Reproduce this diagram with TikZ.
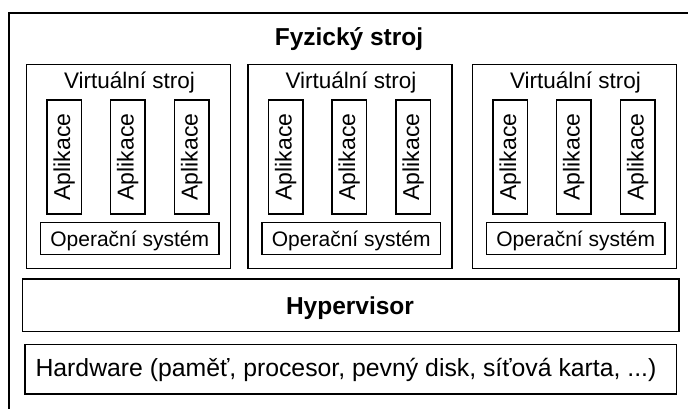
\documentclass[tikz,border=0pt]{standalone}
\usepackage{fontspec}
\setmainfont{Liberation Sans}

\begin{document}
\begin{tikzpicture}[x=1pt,y=-1pt,
    frame/.style={draw,line width=1.3pt},
    bigtext/.style={anchor=base,inner sep=0pt,font=\fontsize{24.5}{29}\selectfont\bfseries},
    vmtext/.style={anchor=base,inner sep=0pt,font=\fontsize{22.5}{27}\selectfont},
    apptext/.style={rotate=90,inner sep=0pt,font=\fontsize{23}{27}\selectfont},
    ostext/.style={anchor=base,inner sep=0pt,font=\fontsize{21}{25}\selectfont},
    hwtext/.style={anchor=base,inner sep=0pt,font=\fontsize{24.8}{29}\selectfont}]
    \useasboundingbox (0,0) rectangle (688,408);
    \clip (0,0) rectangle (688,408);

    % physical machine, runs off the page on the right and at the bottom
    \draw[frame] (9,13) rectangle (705,425);
    \node[bigtext] (host) at (349,45) {Fyzický stroj};

    % three virtual machines
    \foreach \vx/\i in {26.5/1, 248/2, 472.5/3} {
        \draw[frame] (\vx,64.5) rectangle ++(204,204);
        \node[vmtext] (vm\i) at (\vx+103,88) {Virtuální stroj};
        \foreach \ax/\j in {20.5/a, 84/b, 148/c} {
            \draw[frame] (\vx+\ax,100) rectangle ++(34.5,114);
            \node[apptext] (app\i\j) at (\vx+\ax+17.25,157) {Aplikace};
        }
        \draw[frame] (\vx+14,222.5) rectangle ++(178.5,32);
        \node[ostext] (os\i) at (\vx+103.25,246) {Operační systém};
    }

    % hypervisor and hardware layers
    \draw[frame] (22.7,279) rectangle (679,331.5);
    \node[bigtext] (hyp) at (350,314.3) {Hypervisor};
    \draw[frame] (25,344.3) rectangle (676.3,394);
    \node[hwtext] (hw) at (346,376.7) {Hardware (paměť, procesor, pevný disk, síťová karta, ...)};
\end{tikzpicture}
\end{document}
